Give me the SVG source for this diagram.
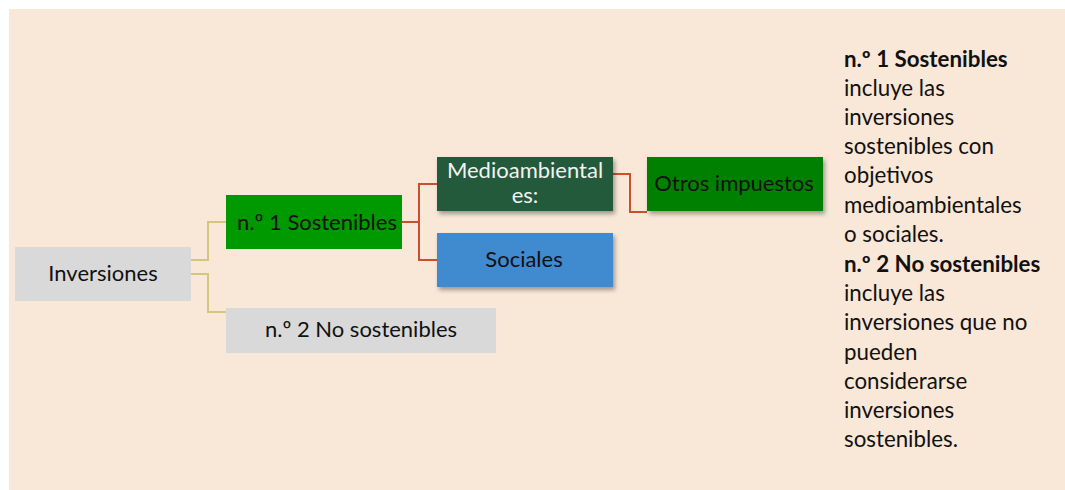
<svg xmlns="http://www.w3.org/2000/svg" width="1065" height="490" viewBox="0 0 1065 490">
<defs>
<style>
.t{font-family:Lato,"Liberation Sans",sans-serif;font-size:22px;fill:#111;text-anchor:middle}
.d{font-family:Lato,"Liberation Sans",sans-serif;font-size:22.3px;fill:#111}
.b{font-weight:bold}
.k{fill:none;stroke:#D3C67E;stroke-width:2}
.r{fill:none;stroke:#C9502F;stroke-width:2}
</style>
<filter id="sh" x="-10%" y="-20%" width="130%" height="160%">
<feDropShadow dx="2" dy="3" stdDeviation="2" flood-color="#000" flood-opacity="0.35"/>
</filter>
</defs>
<rect x="9" y="9" width="1056" height="481" fill="#F9E7D7"/>
<g id="connectors">
<path class="k" d="M191 260 H208 V222 H226"/>
<path class="k" d="M191 274 H208 V312 H226"/>
<path class="r" d="M402 222 H419 V184 H437"/>
<path class="r" d="M419 222 V260 H437"/>
<path class="r" d="M613 174 H630 V212 H647"/>
</g>
<g id="inversiones">
<rect x="15" y="247" width="176" height="54" fill="#D9D9D9"/>
<text class="t" x="103" y="281">Inversiones</text>
</g>
<g id="sostenibles">
<rect x="226" y="195" width="176" height="54" fill="#009900"/>
<text class="t" x="317" y="230">n.º 1 Sostenibles</text>
</g>
<g id="nosostenibles">
<rect x="226" y="308" width="270" height="45" fill="#D9D9D9"/>
<text class="t" x="361" y="337">n.º 2 No sostenibles</text>
</g>
<g id="medioambientales">
<rect x="437" y="157" width="176" height="54" fill="#245A3A" filter="url(#sh)"/>
<text class="t" x="525" y="178" style="fill:#F2F2F2">Medioambiental</text>
<text class="t" x="525" y="203" style="fill:#F2F2F2">es:</text>
</g>
<g id="sociales">
<rect x="437" y="233" width="176" height="54" fill="#3F8AD0" filter="url(#sh)"/>
<text class="t" x="524" y="267">Sociales</text>
</g>
<g id="otros">
<rect x="647" y="157" width="176" height="54" fill="#008000" filter="url(#sh)"/>
<text class="t" x="734" y="191">Otros impuestos</text>
</g>
<g id="leyenda">
<text class="d" x="844"><tspan class="b" x="844" y="67">n.º 1 Sostenibles</tspan><tspan x="844" y="96">incluye las</tspan><tspan x="844" y="125">inversiones</tspan><tspan x="844" y="154">sostenibles con</tspan><tspan x="844" y="183">objetivos</tspan><tspan x="844" y="213">medioambientales</tspan><tspan x="844" y="242">o sociales.</tspan><tspan class="b" x="844" y="272">n.º 2 No sostenibles</tspan><tspan x="844" y="301">incluye las</tspan><tspan x="844" y="330">inversiones que no</tspan><tspan x="844" y="360">pueden</tspan><tspan x="844" y="389">considerarse</tspan><tspan x="844" y="418">inversiones</tspan><tspan x="844" y="447">sostenibles.</tspan></text>
</g>
</svg>
